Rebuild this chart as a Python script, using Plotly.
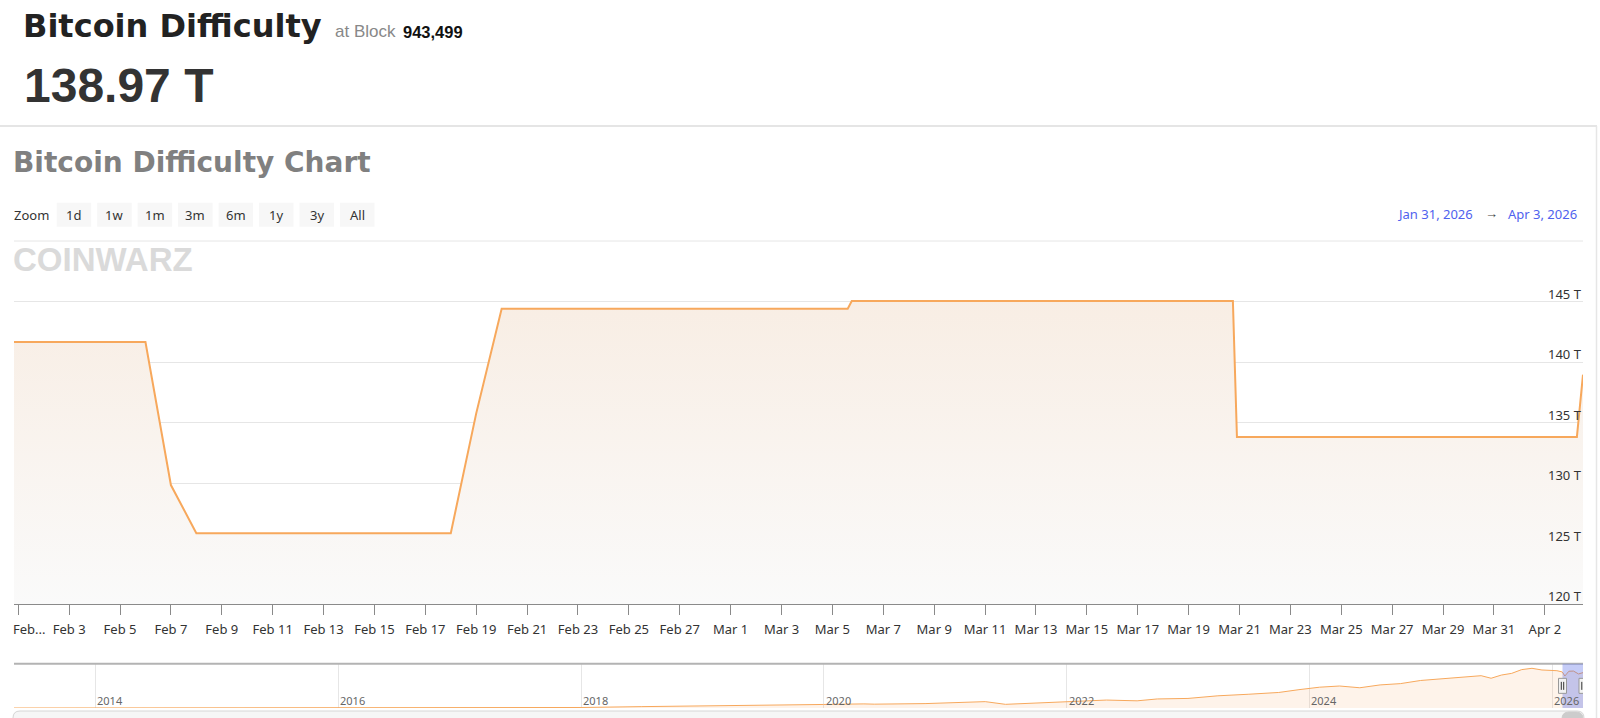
import datetime as dt
import plotly.graph_objects as go

W, H = 1600, 718

# ---------------- data ----------------
# Main chart: Bitcoin difficulty (T) Jan 31 - Apr 3, 2026
DATES = ["2026-01-31 20:00", "2026-02-06 00:00", "2026-02-07 00:00", "2026-02-08 00:00",
         "2026-02-18 00:00", "2026-02-19 00:00", "2026-02-20 00:00", "2026-03-05 14:25",
         "2026-03-05 18:15", "2026-03-20 17:45", "2026-03-20 21:35", "2026-04-03 06:15",
         "2026-04-03 12:00"]
DIFFICULTY = [141.67, 141.67, 129.84, 125.86, 125.86, 135.77, 144.42, 144.42,
              145.06, 145.06, 133.82, 133.82, 138.97]

Y_TICKS = [120, 125, 130, 135, 140, 145]

X_TICKS = ["2026-02-01", "2026-02-03", "2026-02-05", "2026-02-07", "2026-02-09", "2026-02-11",
           "2026-02-13", "2026-02-15", "2026-02-17", "2026-02-19", "2026-02-21", "2026-02-23",
           "2026-02-25", "2026-02-27", "2026-03-01", "2026-03-03", "2026-03-05", "2026-03-07",
           "2026-03-09", "2026-03-11", "2026-03-13", "2026-03-15", "2026-03-17", "2026-03-19",
           "2026-03-21", "2026-03-23", "2026-03-25", "2026-03-27", "2026-03-29", "2026-03-31",
           "2026-04-02"]
X_TICK_LABELS = ["Feb...", "Feb 3", "Feb 5", "Feb 7", "Feb 9", "Feb 11", "Feb 13", "Feb 15",
                 "Feb 17", "Feb 19", "Feb 21", "Feb 23", "Feb 25", "Feb 27", "Mar 1", "Mar 3",
                 "Mar 5", "Mar 7", "Mar 9", "Mar 11", "Mar 13", "Mar 15", "Mar 17", "Mar 19",
                 "Mar 21", "Mar 23", "Mar 25", "Mar 27", "Mar 29", "Mar 31", "Apr 2"]

# Navigator: full history (T)
NAV_DATES = ["2013-05-01", "2014-01-01", "2015-01-01", "2016-01-01", "2017-01-01", "2017-07-01",
             "2018-01-01", "2018-07-01", "2018-11-01", "2019-01-01", "2019-07-01", "2020-01-01",
             "2020-05-01", "2020-06-01", "2020-11-01", "2021-01-01", "2021-05-01", "2021-07-01",
             "2021-10-01", "2022-01-01", "2022-05-01", "2022-08-01", "2022-10-01", "2023-01-01",
             "2023-04-01", "2023-07-01", "2023-10-01", "2023-12-01", "2024-02-01", "2024-04-01",
             "2024-06-01", "2024-08-01", "2024-10-01", "2024-12-01", "2025-02-01", "2025-04-01",
             "2025-06-01", "2025-07-01", "2025-08-01", "2025-09-01", "2025-10-01", "2025-11-01",
             "2025-12-01", "2026-01-15", "2026-01-31", "2026-02-08", "2026-02-20", "2026-03-06",
             "2026-03-21", "2026-04-03 12:00"]
NAV_VALUES = [0.01, 0.0015, 0.04, 0.1, 0.3, 0.7, 2.0, 5.4, 7.2, 5.6, 9.0, 13.9,
              16.1, 15.1, 17.3, 20.6, 25.0, 14.4, 19.9, 24.3, 31.2, 28.2, 35.6, 37.6,
              47.9, 53.9, 61.0, 72.0, 81.7, 86.4, 79.5, 90.7, 95.7, 108.1, 114.2, 121.9,
              126.9, 116.9, 129.4, 136.0, 150.8, 155.9, 149.3, 146.5, 141.67, 125.86, 144.40,
              145.04, 133.79, 138.97]
NAV_TICKS = ["2014-01-01", "2016-01-01", "2018-01-01", "2020-01-01", "2022-01-01",
             "2024-01-01", "2026-01-01"]
NAV_TICK_LABELS = ["2014", "2016", "2018", "2020", "2022", "2024", "2026"]

ZOOM_BUTTONS = ["1d", "1w", "1m", "3m", "6m", "1y", "3y", "All"]
BLOCK = "943,499"

# ---------------- helpers ----------------
def px(x):
    return x / W


def py(y):
    return 1 - y / H


def fmt_date(s):
    d = dt.datetime.fromisoformat(s)
    return f"{d.strftime('%b')} {d.day}, {d.year}"


LINE = "#f7a85c"
LEFT, RIGHT = 14, 1583
MAIN_BOTTOM, MAIN_TOP = 604, 289.7
NAV_BOTTOM, NAV_TOP = 708, 663.7
TICKFONT = dict(family="Noto Sans", size=13, color="#333333")

fig = go.Figure()

fig.add_trace(go.Scatter(
    x=DATES, y=DIFFICULTY, mode="lines",
    line=dict(color=LINE, width=2),
    fill="tozeroy",
    fillgradient=dict(type="vertical",
                      colorscale=[[0, "#f8ede3"], [1, "#fafafa"]],
                      start=146, stop=120),
    hoverinfo="skip", xaxis="x", yaxis="y", showlegend=False,
))

fig.add_trace(go.Scatter(
    x=NAV_DATES, y=NAV_VALUES, mode="lines",
    line=dict(color=LINE, width=1),
    fill="tozeroy", fillcolor="rgba(247,163,92,0.13)",
    hoverinfo="skip", xaxis="x2", yaxis="y2", showlegend=False,
))

shapes = []
# header separator and panel border
shapes.append(dict(type="line", xref="paper", yref="paper", x0=0, x1=px(1597), y0=py(126), y1=py(126),
                   line=dict(color="#dddddd", width=1.5)))
shapes.append(dict(type="line", xref="paper", yref="paper", x0=px(1596.5), x1=px(1596.5), y0=py(126), y1=0,
                   line=dict(color="#e6e6e6", width=1.5)))
# range selector separator
shapes.append(dict(type="line", xref="paper", yref="paper", x0=px(LEFT), x1=px(RIGHT), y0=py(241), y1=py(241),
                   line=dict(color="#e6e6e6", width=1)))
# zoom buttons
for i, _ in enumerate(ZOOM_BUTTONS):
    x0 = 56.7 + i * 40.47
    shapes.append(dict(type="rect", xref="paper", yref="paper", x0=px(x0), x1=px(x0 + 34.5),
                       y0=py(226.7), y1=py(202.7), fillcolor="#f7f7f7", line=dict(width=0), layer="below"))

# navigator outline
shapes.append(dict(type="line", xref="paper", yref="paper", x0=px(LEFT), x1=px(RIGHT),
                   y0=py(NAV_TOP), y1=py(NAV_TOP), line=dict(color="#b3b3b3", width=2)))
# navigator mask (selected range)
shapes.append(dict(type="rect", xref="x2", yref="paper", x0=DATES[0], x1=DATES[-1],
                   y0=py(NAV_BOTTOM), y1=py(NAV_TOP), fillcolor="rgba(80,100,230,0.33)",
                   line=dict(width=0), layer="above"))
nav_mid = py((NAV_TOP + NAV_BOTTOM) / 2)
for d in (DATES[0], DATES[-1]):
    shapes.append(dict(type="rect", xref="x2", yref="paper", xsizemode="pixel", ysizemode="pixel",
                       xanchor=d, yanchor=nav_mid, x0=-4, x1=4, y0=-7.5, y1=7.5,
                       fillcolor="#f2f2f2", line=dict(color="#999999", width=1), layer="above"))
    for dx in (-1.2, 1.2):
        shapes.append(dict(type="line", xref="x2", yref="paper", xsizemode="pixel", ysizemode="pixel",
                           xanchor=d, yanchor=nav_mid, x0=dx, x1=dx, y0=-4, y1=4,
                           line=dict(color="#333333", width=1), layer="above"))

# scrollbar (track + thumb), partly below the visible window
def rounded(x0, y0, x1, y1, r):
    return (f"M {px(x0 + r)} {py(y0)} L {px(x1 - r)} {py(y0)} Q {px(x1)} {py(y0)} {px(x1)} {py(y0 + r)} "
            f"L {px(x1)} {py(y1 - r)} Q {px(x1)} {py(y1)} {px(x1 - r)} {py(y1)} "
            f"L {px(x0 + r)} {py(y1)} Q {px(x0)} {py(y1)} {px(x0)} {py(y1 - r)} "
            f"L {px(x0)} {py(y0 + r)} Q {px(x0)} {py(y0)} {px(x0 + r)} {py(y0)} Z")

shapes.append(dict(type="path", xref="paper", yref="paper", path=rounded(13, 711, 1584, 727, 7),
                   fillcolor="#f6f6f6", line=dict(color="#d6d6d6", width=1)))
shapes.append(dict(type="path", xref="paper", yref="paper", path=rounded(1562, 712, 1583, 727, 7),
                   fillcolor="#cccccc", line=dict(color="#cccccc", width=1)))

ann = []

def text(x, y, s, size, color, family, xanchor="left", bold=False):
    ann.append(dict(xref="paper", yref="paper", x=px(x), y=py(y), text=(f"<b>{s}</b>" if bold else s),
                    showarrow=False, xanchor=xanchor, yanchor="middle", borderpad=0, borderwidth=0,
                    font=dict(family=family, size=size, color=color)))

text(22.5, 26, "Bitcoin Difficulty", 32, "#222222", "DejaVu Sans", bold=True)
text(334.5, 31.7, "at Block", 17, "#888888", "Liberation Sans")
text(402.5, 31.7, BLOCK, 16.5, "#111111", "Liberation Sans", bold=True)
text(24, 86, f"{DIFFICULTY[-1]:.2f} T", 48, "#333333", "Liberation Sans", bold=True)
text(13, 162.5, "Bitcoin Difficulty Chart", 28, "#808080", "DejaVu Sans", bold=True)
text(14, 215, "Zoom", 13, "#333333", "Noto Sans")
for i, lab in enumerate(ZOOM_BUTTONS):
    text(56.7 + i * 40.47 + 17.25, 215, lab, 13, "#333333", "Noto Sans", xanchor="center")
text(1473, 214, fmt_date(DATES[0]), 13, "#4f62ee", "Noto Sans", xanchor="right")
text(1491, 213, "→", 13, "#444444", "Noto Sans", xanchor="center")
text(1577, 214, fmt_date(DATES[-1]), 13, "#4f62ee", "Noto Sans", xanchor="right")
text(13, 259, "COINWARZ", 33, "#dadada", "Liberation Sans", bold=True)
# truncated first x label, left-aligned at the plot edge like the original
text(13, 629, X_TICK_LABELS[0], 13, "#333333", "Noto Sans")

# y-axis labels, sitting just above each grid line
for v in Y_TICKS:
    ann.append(dict(xref="x domain", yref="y", x=1, y=v, text=f"{v} T", showarrow=False,
                    xanchor="right", yanchor="bottom", xshift=-1, yshift=-1, borderpad=0, borderwidth=0,
                    font=TICKFONT))

# navigator year labels, to the right of each year grid line
for d, lab in zip(NAV_TICKS, NAV_TICK_LABELS):
    ann.append(dict(xref="x2", yref="paper", x=d, y=py(700.5), text=lab, showarrow=False,
                    xanchor="left", yanchor="middle", xshift=2, borderpad=0, borderwidth=0,
                    font=dict(family="Noto Sans", size=11, color="#666666")))

fig.update_layout(
    width=W, height=H, margin=dict(l=0, r=0, t=0, b=0),
    paper_bgcolor="white", plot_bgcolor="white",
    showlegend=False, shapes=shapes, annotations=ann,
    xaxis=dict(type="date", domain=[px(LEFT), px(RIGHT)], range=[DATES[0], DATES[-1]],
               tickvals=X_TICKS, ticktext=[""] + X_TICK_LABELS[1:], ticks="outside", ticklen=10,
               tickcolor="#8a8a8a", tickwidth=1, showline=True, linecolor="#8a8a8a", linewidth=1,
               showgrid=False, zeroline=False, tickfont=TICKFONT, ticklabelstandoff=3,
               anchor="y", fixedrange=True),
    yaxis=dict(domain=[py(MAIN_BOTTOM), py(MAIN_TOP)], range=[120, 146], tickvals=Y_TICKS,
               showticklabels=False, gridcolor="#e6e6e6", gridwidth=1, zeroline=False,
               showline=False, side="right", anchor="x", fixedrange=True),
    xaxis2=dict(type="date", domain=[px(LEFT), px(RIGHT)], range=[NAV_DATES[0], NAV_DATES[-1]],
                tickvals=NAV_TICKS, showticklabels=False, ticks="",
                showgrid=True, gridcolor="#e6e6e6", showline=False, zeroline=False,
                anchor="y2", fixedrange=True),
    yaxis2=dict(domain=[py(NAV_BOTTOM), py(NAV_TOP)], range=[0, 174], showgrid=False,
                showticklabels=False, zeroline=False, showline=False, anchor="x2", fixedrange=True),
)

fig.write_html("out.html", config={"displayModeBar": False},
               post_script="document.body.style.margin='0';document.body.style.overflow='hidden';")
